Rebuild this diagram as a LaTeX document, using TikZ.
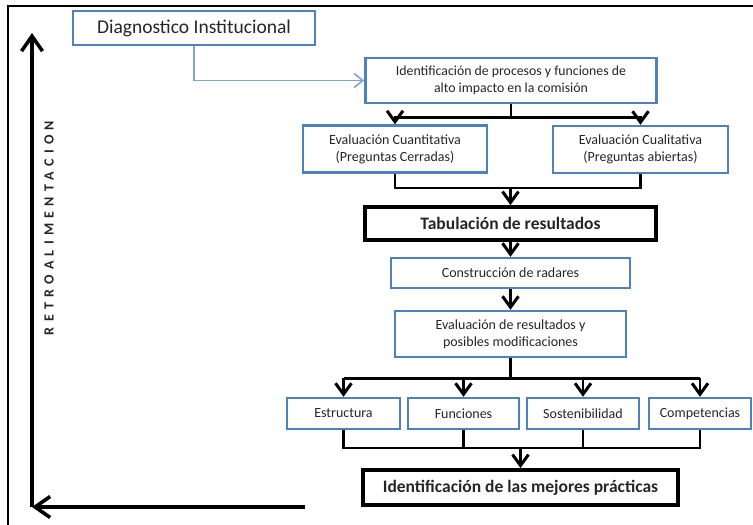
\documentclass[tikz,border=0pt]{standalone}
\usepackage{fontspec}
\setmainfont{Carlito}
\newfontfamily\retrofont[LetterSpace=38]{Carlito}
\usetikzlibrary{arrows.meta,calc}
\definecolor{boxblue}{HTML}{4F81BD}
\definecolor{connblue}{HTML}{7FA5D3}
\definecolor{txt}{HTML}{262626}
\tikzset{
  bluebox/.style={draw=boxblue, line width=2.4pt, fill=white, text=txt, align=center, inner sep=0pt, font=\fontsize{14}{17}\selectfont},
  blackbox/.style={draw=black, line width=3.8pt, fill=white, text=txt, align=center, inner sep=0pt, font=\fontsize{17.5}{20}\selectfont},
  blk/.style={draw=black, line width=2.6pt},
  blkarr/.style={blk, -{Straight Barb[length=11pt,width=16pt,line width=3pt]}},
  bigarr/.style={draw=black, line width=3.4pt, -{Straight Barb[length=15pt,width=21pt,line width=3.6pt]}},
  bluearr/.style={draw=connblue, line width=1.4pt, -{Straight Barb[length=9pt,width=14pt,line width=1.6pt]}}
}
\begin{document}
\begin{tikzpicture}[x=1pt,y=-1pt]
\useasboundingbox (0,0) rectangle (753,525);
\fill[white] (0,0) rectangle (753,525);
% frame
\draw[line width=2pt] (8,525) -- (8,6) -- (753,6);

% nodes
\node[bluebox, minimum width=242, minimum height=34, font=\fontsize{19.5}{22}\selectfont] (diag) at (194,28) {Diagnostico Institucional};
\node[bluebox, minimum width=291, minimum height=45, font=\fontsize{13.8}{17}\selectfont] (ident) at (511,80.5) {Identificación de procesos y funciones de\\alto impacto en la comisión};
\node[bluebox, minimum width=184, minimum height=47] (evqn) at (395,149) {Evaluación Cuantitativa\\(Preguntas Cerradas)};
\node[bluebox, minimum width=175, minimum height=47] (evql) at (640.5,149.5) {Evaluación Cualitativa\\(Preguntas abiertas)};
\node[blackbox, minimum width=291, minimum height=33] (tab) at (510.5,223.5) {\bfseries Tabulación de resultados};
\node[bluebox, minimum width=239, minimum height=30] (cons) at (510.5,273) {Construcción de radares};
\node[bluebox, minimum width=231, minimum height=46] (evres) at (510.5,334) {Evaluación de resultados y\\posibles modificaciones};
\node[bluebox, minimum width=113, minimum height=31] (est) at (343.5,413.5) {Estructura};
\node[bluebox, minimum width=111, minimum height=31] (fun) at (463.5,413.5) {Funciones};
\node[bluebox, minimum width=112, minimum height=31] (sos) at (583,413.5) {Sostenibilidad};
\node[bluebox, minimum width=102, minimum height=31] (com) at (700,413.5) {Competencias};
\node[blackbox, minimum width=315, minimum height=35] (mej) at (520.5,487.5) {\bfseries Identificación de las mejores prácticas};

% blue connector
\draw[bluearr] (diag.south) |- (ident.west);

% ident -> evaluations
\coordinate (j1) at ($(ident.south)+(0,13)$);
\draw[blk] (ident.south) -- (j1);
\draw[blkarr] (j1) -| (evqn.north);
\draw[blkarr] (j1) -| (evql.north);

% evaluations -> tab
\coordinate (j2) at ($(tab.north)+(0,-17)$);
\draw[blk] (evqn.south) |- (j2) -| (evql.south);
\draw[blkarr] (j2) -- (tab.north);

\draw[blkarr] (tab.south) -- (cons.north);
\draw[blkarr] (cons.south) -- (evres.north);

% evres -> four
\coordinate (j3) at ($(evres.south)+(0,20)$);
\draw[blk] (evres.south) -- (j3);
\draw[blk] (est.north |- j3) -- (com.north |- j3);
\draw[blkarr] (est.north |- j3) -- (est.north);
\draw[blkarr] (fun.north |- j3) -- (fun.north);
\draw[blkarr] (sos.north |- j3) -- (sos.north);
\draw[blkarr] (com.north |- j3) -- (com.north);

% four -> mej
\coordinate (j4) at ($(mej.north)+(0,-20)$);
\draw[blk] (est.south) |- (j4) -| (com.south);
\draw[blk] (fun.south) -- (fun.south |- j4);
\draw[blk] (sos.south) -- (sos.south |- j4);
\draw[blkarr] (j4) -- (mej.north);

% feedback arrow
\coordinate (rr) at (305,507);
\coordinate (rc) at (32,507);
\coordinate (rt) at (32,33);
\draw[bigarr] (rr) -- (rc);
\draw[bigarr] (rc) -- (rt);
\node[rotate=90, text=txt, font=\retrofont\bfseries\fontsize{14}{16}\selectfont] (retro) at (49,228) {RETROALIMENTACION};
\end{tikzpicture}
\end{document}
